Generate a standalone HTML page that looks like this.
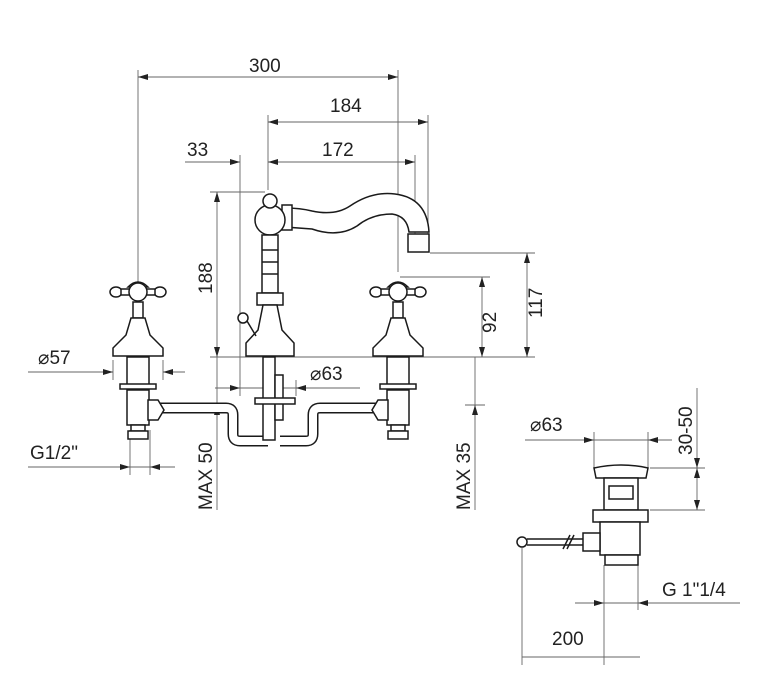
<!DOCTYPE html>
<html><head><meta charset="utf-8"><style>
html,body{margin:0;padding:0;background:#fff}
svg{display:block}
text{font-family:"Liberation Sans",sans-serif;font-size:19px;fill:#222}
.d{stroke:#666;stroke-width:0.9;fill:none}
.p{stroke:#1a1a1a;stroke-width:1.5;fill:#fff}
.l{stroke:#1a1a1a;stroke-width:1.5;fill:none}
</style></head><body>
<svg width="784" height="697" viewBox="0 0 784 697">
<defs>
<marker id="a" viewBox="0 0 10 6" refX="10" refY="3" markerWidth="10" markerHeight="6" orient="auto-start-reverse" markerUnits="userSpaceOnUse"><path d="M0,0L10,3L0,6z" fill="#222"/></marker>
</defs>
<g class="d">
<path d="M138 70V292M398 70V272M268 115V190M428 115V237M240 155V385M415 155V237"/>
<path d="M210 192H265M210 357H300M430 253H535M400 277H490M300 357H535"/>
<path d="M28 372H112M163 372H175M113 360V380M163 360V380"/>
<path d="M240 380V396M296 380V396M240 388H360"/>
<path d="M28 467H175M130 430V475M150 430V475"/>
<path d="M525 440H648M594 432V468M648 432V468"/>
<path d="M650 468H705M650 510H705"/>
<path d="M575 603H740M604 565V610M638 565V610"/>
<path d="M522 548V665M522 657H640M604 610V665"/>
<path d="M217 357V510M475 357V510M205 405H225M465 405H485"/>
</g>
<g class="d" marker-start="url(#a)" marker-end="url(#a)">
<line x1="138" y1="77" x2="398" y2="77"/>
<line x1="268" y1="122" x2="428" y2="122"/>
<line x1="268" y1="162" x2="415" y2="162"/>
<line x1="217" y1="192" x2="217" y2="357"/>
<line x1="482" y1="277" x2="482" y2="357"/>
<line x1="527" y1="253" x2="527" y2="357"/>
<line x1="697" y1="468" x2="697" y2="510"/>
</g>
<g class="d">
<path d="M185 162H240" marker-end="url(#a)"/>
<path d="M90 372H113" marker-end="url(#a)"/><path d="M185 372H163" marker-end="url(#a)"/>
<path d="M215 388H240" marker-end="url(#a)"/><path d="M320 388H296" marker-end="url(#a)"/>
<path d="M100 467H130" marker-end="url(#a)"/><path d="M175 467H150" marker-end="url(#a)"/>
<path d="M570 440H594" marker-end="url(#a)"/><path d="M672 440H648" marker-end="url(#a)"/>
<path d="M697 388V468" marker-end="url(#a)"/>
<path d="M580 603H604" marker-end="url(#a)"/><path d="M660 603H638" marker-end="url(#a)"/>
<path d="M217 420V405" marker-end="url(#a)"/><path d="M475 420V405" marker-end="url(#a)"/>
</g>
<text x="249" y="72">300</text>
<text x="330" y="112">184</text>
<text x="187" y="156">33</text>
<text x="322" y="156">172</text>
<text transform="translate(212,294) rotate(-90)">188</text>
<text transform="translate(496,333) rotate(-90)">92</text>
<text transform="translate(542,318) rotate(-90)">117</text>
<text transform="translate(212,510) rotate(-90)">MAX 50</text>
<text transform="translate(470,510) rotate(-90)">MAX 35</text>
<text x="38" y="364">⌀57</text>
<text x="310" y="380">⌀63</text>
<text x="30" y="459">G1/2"</text>
<text x="530" y="431">⌀63</text>
<text transform="translate(692,455) rotate(-90)">30-50</text>
<text x="662" y="596">G  1"1/4</text>
<text x="552" y="645">200</text>

<!-- pipes -->
<g fill="none">
<path d="M160 408H226Q233 408 233 415V434Q233 441 240 441H268M385 408H320Q313 408 313 415V434Q313 441 306 441H280" stroke="#1a1a1a" stroke-width="11"/>
<path d="M160 408H226Q233 408 233 415V434Q233 441 240 441H268M385 408H320Q313 408 313 415V434Q313 441 306 441H280" stroke="#fff" stroke-width="8"/>
</g>
<g class="p">
<rect x="263" y="357" width="12" height="83"/>
<rect x="275" y="375" width="8" height="45"/>
<rect x="255" y="398" width="40" height="6"/>
</g>
<g id="v" class="p">
<ellipse cx="116" cy="292" rx="6" ry="5"/><ellipse cx="160" cy="292" rx="6" ry="5"/>
<rect x="121" y="289" width="34" height="6"/>
<path d="M128 287Q138 277 148 287Z"/>
<circle cx="138" cy="292" r="9"/>
<path d="M133 302H143V318H133Z"/>
<path d="M131 318H145L150 335L163 348V356H113V348L126 335Z"/>
<rect x="127" y="357" width="22" height="28"/>
<rect x="120" y="384" width="36" height="5"/>
<rect x="127" y="390" width="22" height="35"/>
<rect x="131" y="425" width="14" height="6"/><rect x="128" y="431" width="20" height="8"/>
</g>
<use href="#v" transform="translate(260,0)"/>
<g class="p">
<path d="M148 400H158L164 410L158 420H148Z"/>
<path d="M388 400H378L372 410L378 420H388Z"/>
</g>
<g class="p">
<path d="M285 208Q300 208 312 211Q335 216 350 206Q372 191 395 194Q427 198 429 232H409Q407 216 392 214Q372 214 357 226Q338 238 312 229L285 227Z"/>
<rect x="282" y="205" width="10" height="25"/>
<rect x="408" y="234" width="21" height="18"/>
<circle cx="270" cy="220" r="15"/>
<circle cx="270" cy="201" r="7"/>
<rect x="262" y="235" width="16" height="58"/>
<path d="M262 250H278M262 262H278M262 274H278"/>
<rect x="257" y="293" width="26" height="12"/>
<path d="M263 305H277L282 330L294 343V356H246V343L258 330Z"/>
<circle cx="243" cy="318" r="5"/><path d="M247 321L256 336"/>
</g>
<g class="p">
<path d="M594 468Q621 462 648 468L646 478H596Z"/>
<rect x="604" y="478" width="34" height="32"/>
<rect x="609" y="486" width="24" height="13"/>
<rect x="593" y="510" width="55" height="12"/>
<rect x="600" y="522" width="40" height="33"/>
<rect x="583" y="533" width="17" height="18"/>
<rect x="605" y="555" width="33" height="10"/>
<path d="M527 539H583M527 545H583"/>
<circle cx="522" cy="542" r="5"/>
<path d="M563 549L570 535M567 549L574 535" style="fill:none"/>
</g>
</svg>
</body></html>
